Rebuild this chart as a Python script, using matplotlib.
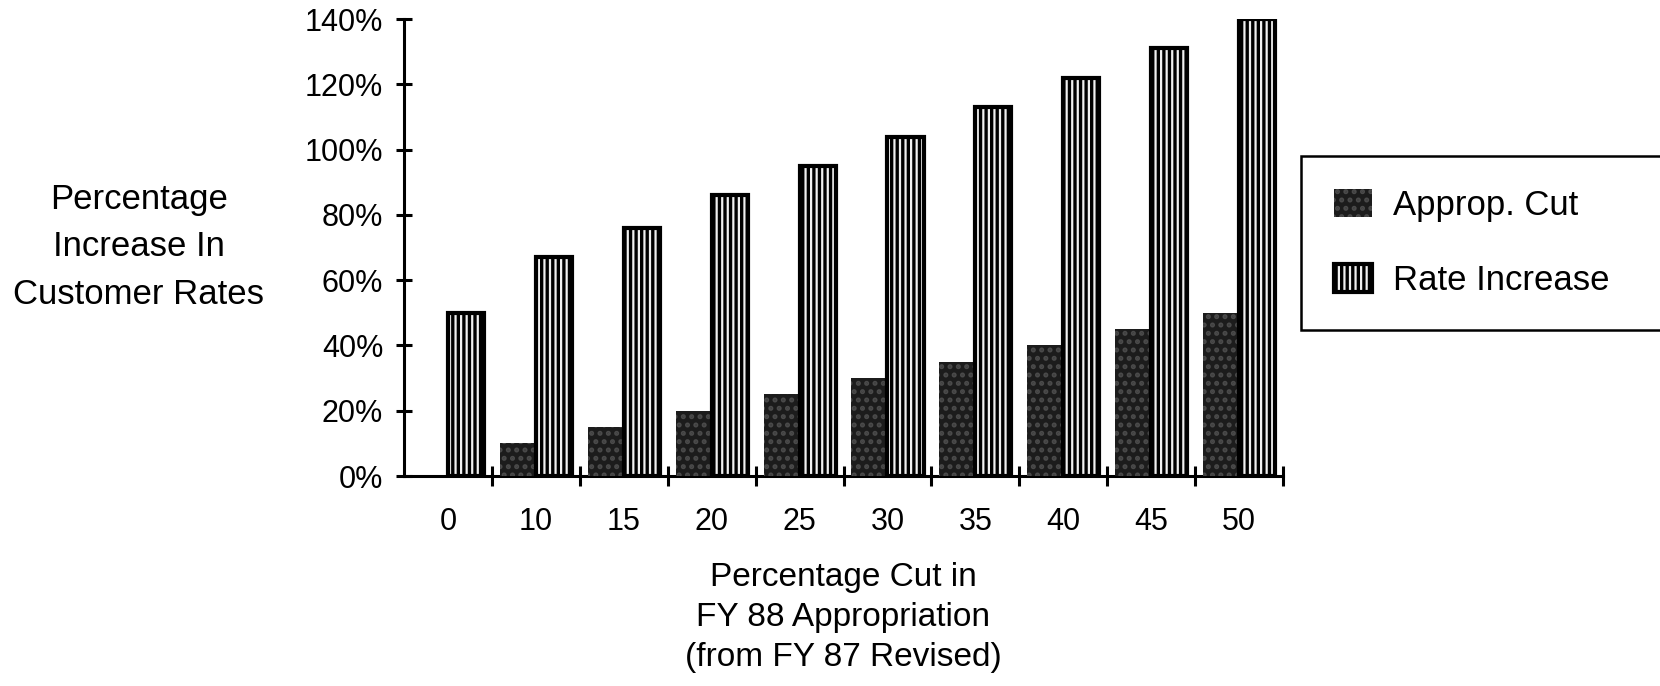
import matplotlib
matplotlib.use("Agg")
import matplotlib.pyplot as plt
import numpy as np
from matplotlib.ticker import PercentFormatter, FixedLocator

plt.rcParams['font.family'] = ['Liberation Sans', 'DejaVu Sans']
plt.rcParams['hatch.linewidth'] = 2.4

# data
cuts = ['0', '10', '15', '20', '25', '30', '35', '40', '45', '50']
approp_cut = [0, 10, 15, 20, 25, 30, 35, 40, 45, 50]
rate_increase = [50, 67, 76, 86, 95, 104, 113, 122, 131, 140]

fig = plt.figure(figsize=(16.6, 6.86), dpi=100)
ax = fig.add_axes([0.2434, 0.3061, 0.5295, 0.6662])

x = np.arange(len(cuts))
w = 0.41

# Approp. Cut - dark stippled
ax.bar(x - w / 2, approp_cut, w, color='#1c1c1c', edgecolor='#4a4a4a',
       hatch='..', linewidth=0, zorder=3, label='Approp. Cut')
# Rate Increase - vertical stripes
ax.bar(x + w / 2, rate_increase, w, color='#f0f0f0', edgecolor='black',
       hatch='|||', linewidth=3, zorder=3, label='Rate Increase')

ax.set_xlim(-0.5, len(cuts) - 0.5)
ax.set_ylim(0, 140)
ax.set_yticks(np.arange(0, 141, 20))
ax.yaxis.set_major_formatter(PercentFormatter(decimals=0))

ax.set_xticks(x)
ax.set_xticklabels(cuts)
ax.xaxis.set_minor_locator(FixedLocator(np.arange(0.5, len(cuts), 1.0)))

for s in ['top', 'right']:
    ax.spines[s].set_visible(False)
for s in ['left', 'bottom']:
    ax.spines[s].set_linewidth(2.2)

ax.tick_params(axis='y', direction='inout', length=12, width=2.2, pad=9, labelsize=22)
ax.tick_params(axis='x', which='major', length=0, pad=22, labelsize=22)
ax.tick_params(axis='x', which='minor', direction='inout', length=14, width=2.2)

# axis titles
fig.text(131 / 1568, 1 - 233 / 648, 'Percentage\nIncrease In\nCustomer Rates',
         ha='center', va='center', fontsize=25, linespacing=1.56)
fig.text(843 / 1660, 1 - 583 / 648,
         'Percentage Cut in\nFY 88 Appropriation\n(from FY 87 Revised)',
         ha='center', va='center', fontsize=24, linespacing=1.37)

leg = fig.legend(loc='upper left',
                 bbox_to_anchor=(1229 / 1568, 1 - 147 / 648 - 0.01, 0.22, 0.01),
                 mode='expand', borderaxespad=0, fontsize=25,
                 fancybox=False, edgecolor='black', framealpha=1,
                 handlelength=1.1, handleheight=0.9, handletextpad=0.6,
                 labelspacing=1.2, borderpad=0.95)
leg.get_frame().set_linewidth(1.8)

fig.savefig('out.png', dpi=100, facecolor='white')
